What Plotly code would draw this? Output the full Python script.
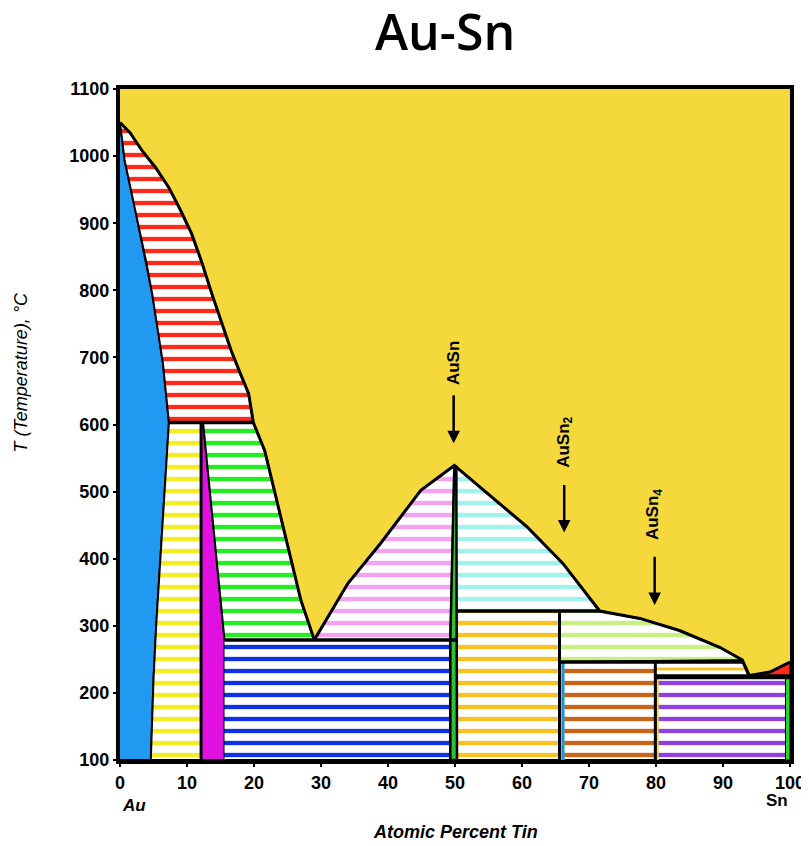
import plotly.graph_objects as go

# ---------------- data ----------------
x_ticks = [0, 10, 20, 30, 40, 50, 60, 70, 80, 90, 100]
y_ticks = [100, 200, 300, 400, 500, 600, 700, 800, 900, 1000, 1100]

# Au-rich liquidus above and below the 603 C peritectic
liq_upper_x = [0, 1.5, 3.3, 5.3, 7.3, 9.0, 10.7, 12.2, 13.7, 15.2, 16.6, 18.0, 19.2, 19.9]
liq_upper_T = [1050, 1035, 1008, 983, 953, 920, 884, 842, 795, 752, 710, 675, 646, 603]
liq_lower_x = [19.9, 21.6, 27.0, 29.0]
liq_lower_T = [603, 561, 338, 279]
# alpha (Au) solidus / solvus
alpha_sol_x = [0, 0.7, 1.8, 2.8, 3.9, 4.8, 5.6, 6.4, 7.3]
alpha_sol_T = [1050, 993, 943, 893, 843, 795, 745, 692, 603]
alpha_solv_x = [7.3, 6.9, 6.5, 5.9, 5.4, 5.0, 4.6]
alpha_solv_T = [603, 540, 470, 380, 300, 220, 100]
# beta / zeta phase boundaries
beta_left_x = 12.1
zeta_right_x = [12.4, 15.6, 15.6]
zeta_right_T = [603, 279, 100]
# liquidus around AuSn
liq_mid_left_x = [29.0, 34.0, 38.9, 44.9, 49.9]
liq_mid_left_T = [279, 363, 423, 502, 539]
liq_mid_right_x = [49.9, 53.8, 60.8, 66.1, 71.6]
liq_mid_right_T = [539, 506, 447, 393, 322]
# Sn-rich liquidus
liq_right_x = [71.6, 77.6, 83.5, 89.5, 92.9, 93.9]
liq_right_T = [322, 311, 293, 268, 249, 226]
liq_sn_x = [93.9, 97.0, 100]
liq_sn_T = [226, 231, 246]
# invariant temperatures and compound compositions
T_min = 100
T_per1 = 603
T_eut1 = 279
T_ausn = 539
T_per2 = 322
T_per3 = 246
T_eut2 = 224
x_ausn = [49.3, 50.3]
x_ausn2 = 65.6
x_ausn4 = 79.9
x_sn_ss = 99.4

# compound labels: name, x, label T, arrow tail T, arrow head T
compounds = ["AuSn", "AuSn<sub>2</sub>", "AuSn<sub>4</sub>"]
compound_x = [49.8, 66.3, 79.8]
label_T = [691, 573, 466]
arrow_tail_T = [646, 512, 405]
arrow_head_T = [572, 439, 331]

# ---------------- figure ----------------
LIQ = "#F5D93C"
fig = go.Figure()


def region(xs, ys, fg, hatch=True, lw=2, size=12, solidity=0.36, lcolor="black"):
    kw = dict(x=xs, y=ys, mode="lines", fill="toself",
              line=dict(color=lcolor, width=lw), hoverinfo="skip", showlegend=False)
    if hatch:
        kw["fillcolor"] = "white"
        kw["fillpattern"] = dict(shape="-", fgcolor=fg, bgcolor="white", fgopacity=1,
                                 size=size, solidity=solidity)
    else:
        kw["fillcolor"] = fg
    fig.add_trace(go.Scatter(**kw))


def line(xs, ys, w=3, color="black"):
    fig.add_trace(go.Scatter(x=xs, y=ys, mode="lines", line=dict(color=color, width=w),
                             hoverinfo="skip", showlegend=False))


# alpha (solid blue)
region([0] + alpha_sol_x + alpha_solv_x[1:] + [0],
       [alpha_sol_T[0]] + alpha_sol_T + alpha_solv_T[1:] + [T_min], "#2299F0", hatch=False)
# L + beta (red hatch)
region(liq_upper_x + alpha_sol_x[::-1], liq_upper_T + alpha_sol_T[::-1], "#FF2A1A")
# alpha + beta (yellow hatch)
region(alpha_solv_x + [beta_left_x, beta_left_x], alpha_solv_T + [T_min, T_per1], "#F2EE22")
# zeta (magenta)
region([beta_left_x] + zeta_right_x + [beta_left_x],
       [T_per1] + zeta_right_T + [T_min], "#E010E0", hatch=False)
# L + zeta (green hatch)
region(liq_lower_x + [zeta_right_x[1]] + [zeta_right_x[0]],
       liq_lower_T + [T_eut1, T_per1], "#22EE22")
# zeta + AuSn (blue hatch)
region([zeta_right_x[1], x_ausn[0], x_ausn[0], zeta_right_x[1]],
       [T_eut1, T_eut1, T_min, T_min], "#1030E8")
# L + AuSn (pink)
region(liq_mid_left_x + [x_ausn[0]], liq_mid_left_T + [T_eut1], "#F6A0F2")
# AuSn + L (cyan)
region(liq_mid_right_x + [x_ausn[1]], liq_mid_right_T + [T_per2], "#A0F2EC")
# AuSn + AuSn2 (orange)
region([x_ausn[1], x_ausn2, x_ausn2, x_ausn[1]], [T_per2, T_per2, T_min, T_min], "#F8C020")
# AuSn2 + L (light green)
region([x_ausn2] + liq_right_x[:-1] + [x_ausn2],
       [T_per2] + liq_right_T[:-1] + [T_per3], "#C8F080")
# AuSn2 + AuSn4 (brown)
region([x_ausn2 + 0.7, x_ausn4, x_ausn4, x_ausn2 + 0.7],
       [T_per3, T_per3, T_min, T_min], "#C86418")
# AuSn4 + L (orange strip)
region([x_ausn4, liq_right_x[-2], liq_right_x[-1], x_ausn4],
       [T_per3, T_per3, T_eut2, T_eut2], "#F8C020", size=8)
# AuSn4 + Sn (purple)
region([x_ausn4 + 0.5, x_sn_ss, x_sn_ss, x_ausn4 + 0.5],
       [T_eut2, T_eut2, T_min, T_min], "#9040E0")
# L + Sn (small red)
region(liq_sn_x + [100], liq_sn_T + [T_eut2], "#FF2A1A", hatch=False, lw=1)
# Sn solid solution (green strip)
region([x_sn_ss, 100, 100, x_sn_ss], [T_eut2, T_eut2, T_min, T_min], "#30D030", hatch=False, lw=1)
# AuSn compound band
region([x_ausn[0] + 0.6, x_ausn[0], x_ausn[0], x_ausn[1], x_ausn[1] - 0.1],
       [T_ausn, T_eut1, T_min, T_min, T_ausn], "#30C030", hatch=False, lw=2.5)
# AuSn2 blue strip
region([x_ausn2 + 0.3, x_ausn2 + 0.7, x_ausn2 + 0.7, x_ausn2 + 0.3],
       [T_per3, T_per3, T_min, T_min], "#2090E0", hatch=False, lw=0.5, lcolor="#2090E0")

# boundary lines
line(liq_upper_x + liq_lower_x[1:], liq_upper_T + liq_lower_T[1:], 3)
line(liq_mid_left_x + liq_mid_right_x[1:] + liq_right_x[1:] + liq_sn_x[1:],
     liq_mid_left_T + liq_mid_right_T[1:] + liq_right_T[1:] + liq_sn_T[1:], 3)
line([alpha_sol_x[-1], liq_upper_x[-1]], [T_per1, T_per1], 3.5)
line([zeta_right_x[1], x_ausn[1]], [T_eut1, T_eut1], 3.5)
line([x_ausn[1], liq_mid_right_x[-1]], [T_per2, T_per2], 3.5)
line([x_ausn2, liq_right_x[-2]], [T_per3, T_per3], 3.5)
line([x_ausn4, 100], [T_eut2, T_eut2], 5)
line([beta_left_x, beta_left_x], [T_per1, T_min], 3)
line([x_ausn2, x_ausn2], [T_per2, T_min], 3)
line([x_ausn4, x_ausn4], [T_per3, T_min], 3)

# compound labels and arrows
for name, cx, lt, at, ah in zip(compounds, compound_x, label_T, arrow_tail_T, arrow_head_T):
    fig.add_annotation(x=cx, y=lt, text=name, showarrow=False, textangle=-90,
                       font=dict(family="Liberation Sans", size=17, color="black", weight="bold"))
    fig.add_annotation(x=cx, y=ah, ax=cx, ay=at, axref="x", ayref="y", text="",
                       showarrow=True, arrowhead=2, arrowsize=1, arrowwidth=2.5, arrowcolor="black")

TICKFONT = dict(family="Liberation Sans", size=18, color="black", weight="bold")
fig.update_xaxes(range=[0, 100], tickvals=x_ticks, showgrid=False, zeroline=False,
                 showline=True, linewidth=4, linecolor="black", mirror=True,
                 ticks="outside", ticklen=3, tickwidth=2, tickcolor="black", tickfont=TICKFONT)
fig.update_yaxes(range=[100, 1100], tickvals=y_ticks, showgrid=False, zeroline=False,
                 showline=True, linewidth=4, linecolor="black", mirror=True,
                 ticks="outside", ticklen=3, tickwidth=2, tickcolor="black", tickfont=TICKFONT)

fig.add_annotation(xref="paper", yref="paper", x=0.485, y=1, yanchor="middle", yshift=58,
                   text="Au-Sn", showarrow=False,
                   font=dict(family="Open Sans", size=50, color="black", weight=600))
fig.add_annotation(xref="paper", yref="paper", x=0.5, y=0, yanchor="middle", yshift=-72,
                   text="<i>Atomic Percent Tin</i>", showarrow=False,
                   font=dict(family="Liberation Sans", size=18, color="black", weight="bold"))
fig.add_annotation(xref="paper", yref="paper", x=0, y=0, yanchor="middle", yshift=-45,
                   text="<i>Au</i>", showarrow=False,
                   font=dict(family="Liberation Sans", size=17, color="black", weight="bold"))
fig.add_annotation(xref="paper", yref="paper", x=1, y=0, yanchor="middle", yshift=-40,
                   text="Sn", showarrow=False,
                   font=dict(family="Liberation Sans", size=17, color="black", weight="bold"))
fig.add_annotation(xref="paper", yref="paper", x=0, xanchor="center", xshift=-100,
                   y=0.5, yanchor="middle", yshift=52,
                   text="<i>T (Temperature), °C</i>", textangle=-90, showarrow=False,
                   font=dict(family="Liberation Sans", size=18, color="black"))

fig.update_layout(width=809, height=846, margin=dict(l=112, r=27, t=81, b=94),
                  plot_bgcolor=LIQ, paper_bgcolor="white", showlegend=False)

fig.write_html("out.html")
